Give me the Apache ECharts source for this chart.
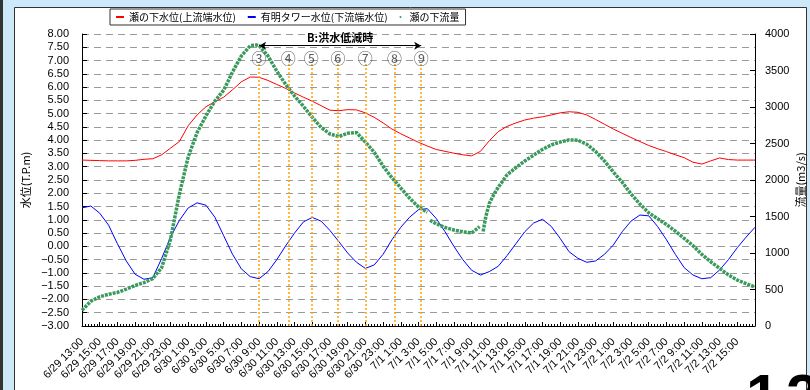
<!DOCTYPE html>
<html>
<head>
<meta charset="utf-8">
<script src="https://cdn.jsdelivr.net/npm/echarts@6/dist/echarts.min.js"></script>
<style>
html, body { margin: 0; padding: 0; background: #cde8f8; }
#chart { width: 810px; height: 390px; }
</style>
</head>
<body>
<div id="chart"></div>
<script>
// x axis = hours since 6/29 13:00, one label every 2 hours
const timeLabels = [
  '6/29 13:00', '6/29 15:00', '6/29 17:00', '6/29 19:00', '6/29 21:00', '6/29 23:00',
  '6/30 1:00', '6/30 3:00', '6/30 5:00', '6/30 7:00', '6/30 9:00', '6/30 11:00',
  '6/30 13:00', '6/30 15:00', '6/30 17:00', '6/30 19:00', '6/30 21:00', '6/30 23:00',
  '7/1 1:00', '7/1 3:00', '7/1 5:00', '7/1 7:00', '7/1 9:00', '7/1 11:00',
  '7/1 13:00', '7/1 15:00', '7/1 17:00', '7/1 19:00', '7/1 21:00', '7/1 23:00',
  '7/2 1:00', '7/2 3:00', '7/2 5:00', '7/2 7:00', '7/2 9:00', '7/2 11:00',
  '7/2 13:00', '7/2 15:00'
];

// hourly water levels (T.P.m), index = hour
const upperLevel = [
  3.25, 3.24, 3.23, 3.22, 3.22, 3.22, 3.24, 3.28, 3.30, 3.45,
  3.70, 3.95, 4.55, 4.95, 5.26, 5.45, 5.62, 5.90, 6.20, 6.38,
  6.37, 6.25, 6.10, 5.95, 5.78, 5.62, 5.47, 5.30, 5.13, 5.11,
  5.15, 5.14, 5.03, 4.86, 4.65, 4.42, 4.24, 4.08, 3.92, 3.78,
  3.65, 3.58, 3.51, 3.45, 3.41, 3.58, 3.98, 4.32, 4.52, 4.65,
  4.76, 4.83, 4.88, 4.95, 5.03, 5.07, 5.05, 4.95, 4.78, 4.60,
  4.42, 4.26, 4.10, 3.95, 3.80, 3.68, 3.57, 3.45, 3.34, 3.17,
  3.10, 3.22, 3.33, 3.27, 3.25, 3.25, 3.25
];
const lowerLevel = [
  1.45, 1.52, 1.25, 0.80, 0.10, -0.55, -1.05, -1.24, -1.18, -0.45,
  0.35, 0.98, 1.45, 1.64, 1.55, 1.10, 0.40, -0.30, -0.85, -1.14,
  -1.22, -0.95, -0.50, 0.02, 0.50, 0.92, 1.09, 0.95, 0.60, 0.18,
  -0.25, -0.60, -0.83, -0.70, -0.30, 0.25, 0.72, 1.10, 1.38, 1.42,
  1.05, 0.55, 0.00, -0.50, -0.90, -1.08, -0.95, -0.75, -0.35, 0.10,
  0.55, 0.88, 1.02, 0.75, 0.30, -0.20, -0.45, -0.60, -0.55, -0.30,
  0.05, 0.55, 0.95, 1.18, 1.15, 0.75, 0.25, -0.30, -0.80, -1.08,
  -1.22, -1.18, -0.89, -0.50, -0.05, 0.35, 0.72
];

// discharge (m3/s); null = missing record
const flowHours = [
  0, 1, 2, 3, 4, 5, 6, 7, 8, 9, 10, 11, 12, 13, 14, 15, 16, 17, 18, 19,
  19.7, 20, 21, 22, 23, 24, 25, 26, 27, 28, 29, 30, 31, 32, 33, 34, 35, 36, 37, 38,
  39, 39.2, 39.3, 40, 41, 42, 43, 44, 44.9, 45.1, 45.3, 45.6, 46, 46.5, 47, 48, 49,
  50, 51, 52, 53, 54, 55, 56, 57, 58, 59, 60, 61, 62, 63, 64, 65, 66, 67, 68, 69,
  70, 71, 72, 73, 74, 75, 76
];
const flowValues = [
  215, 340, 400, 435, 460, 505, 555, 595, 650, 800, 1190, 1810, 2320, 2650, 2880, 3080, 3230, 3480, 3700, 3840,
  3850, 3840, 3700, 3490, 3310, 3150, 3010, 2860, 2720, 2630, 2595, 2640, 2650, 2520, 2380, 2190, 2030, 1890, 1750, 1630,
  1560, null, 1450, 1400, 1350, 1315, 1290, 1275, 1360, null, 1295, 1500, 1680, 1800, 1900, 2070, 2170,
  2260, 2340, 2420, 2480, 2520, 2550, 2545, 2490, 2390, 2260, 2110, 1970, 1810, 1670, 1550, 1470, 1390, 1300, 1200, 1100,
  980, 880, 790, 700, 630, 580, 535
];

// recession period markers
const stepHours = [20, 23.3, 25.9, 28.9, 32, 35.3, 38.3];
const stepLabels = ['③', '④', '⑤', '⑥', '⑦', '⑧', '⑨'];
const periodLabel = 'B:洪水低減時';

const seriesNames = ['瀬の下水位(上流端水位)', '有明タワー水位(下流端水位)', '瀬の下流量'];

const jp = '"Noto Sans CJK JP", "Noto Sans", sans-serif';
const num = '"Liberation Sans", Arial, sans-serif';

const chart = echarts.init(document.getElementById('chart'), null, { renderer: 'canvas' });

const fmtLevel = v => (v < 0 ? '\u2212' : '') + Math.abs(v).toFixed(2);

const option = {
  animation: false,
  backgroundColor: '#cde8f8',
  graphic: [
    { type: 'rect', z: -10, shape: { x: 0, y: 0, width: 3, height: 390 }, style: { fill: '#333' } },
    { type: 'rect', z: -10, shape: { x: 14.5, y: 7.5, width: 792, height: 400 }, style: { fill: '#fff', stroke: '#333', lineWidth: 1 } },
    { type: 'text', z: 10, left: 746, top: 369, style: { text: '1', font: 'bold 60px "Liberation Sans"', fill: '#000' } },
    { type: 'text', z: 10, left: 786, top: 369, style: { text: '2', font: 'bold 60px "Liberation Sans"', fill: '#000' } }
  ],
  legend: {
    data: [
      { name: seriesNames[0], icon: 'rect' },
      { name: seriesNames[1], icon: 'rect' },
      { name: seriesNames[2], icon: 'circle' }
    ],
    left: 110,
    top: 9,
    padding: [3, 6],
    itemWidth: 8,
    itemHeight: 2,
    itemGap: 12,
    backgroundColor: '#fff',
    borderColor: '#333',
    borderWidth: 1,
    borderRadius: 0,
    textStyle: { fontFamily: jp, fontSize: 10, color: '#000' }
  },
  grid: { left: 82, right: 55, top: 34, bottom: 64, outerBoundsMode: 'none' },
  xAxis: {
    type: 'value',
    min: 0,
    max: 76,
    interval: 2,
    axisLine: { show: true, onZero: false, lineStyle: { color: '#000', width: 1 } },
    axisTick: { show: true, inside: true, length: 4, lineStyle: { color: '#000' } },
    minorTick: { show: true, splitNumber: 6, length: 2, lineStyle: { color: '#000' } },
    splitLine: { show: false },
    axisLabel: {
      rotate: 45,
      margin: 14,
      fontFamily: num,
      fontSize: 11,
      color: '#000',
      formatter: v => timeLabels[v / 2] || ''
    }
  },
  yAxis: [
    {
      type: 'value',
      min: -3,
      max: 8,
      interval: 0.5,
      name: '水位(T.P.m)',
      nameLocation: 'middle',
      nameRotate: 90,
      nameGap: 51,
      nameMoveOverlap: false,
      nameTextStyle: { fontFamily: jp, fontSize: 11, color: '#000' },
      axisLine: { show: true, onZero: false, lineStyle: { color: '#000', width: 1 } },
      axisTick: { show: true, inside: true, length: 5, lineStyle: { color: '#000' } },
      splitLine: { show: true, lineStyle: { color: '#9a9a9a', width: 1, type: [7, 5] } },
      axisLabel: { margin: 13, fontFamily: num, fontSize: 11, color: '#000', formatter: fmtLevel }
    },
    {
      type: 'value',
      position: 'right',
      min: 0,
      max: 4000,
      interval: 500,
      name: '流量(m3/s)',
      nameLocation: 'middle',
      nameRotate: 90,
      nameGap: 40,
      nameMoveOverlap: false,
      nameTextStyle: { fontFamily: jp, fontSize: 11, color: '#000' },
      axisLine: { show: true, onZero: false, lineStyle: { color: '#000', width: 1 } },
      axisTick: { show: true, inside: true, length: 5, lineStyle: { color: '#000' } },
      splitLine: { show: false },
      axisLabel: { margin: 10, fontFamily: num, fontSize: 11, color: '#000', formatter: v => String(v) }
    }
  ],
  series: [
    {
      name: seriesNames[0],
      type: 'line',
      yAxisIndex: 0,
      data: upperLevel.map((v, i) => [i, v]),
      showSymbol: false,
      symbol: 'none',
      color: '#ff0000',
      lineStyle: { color: '#ff0000', width: 1 },
      z: 3,
      markLine: {
        silent: true,
        symbol: ['none', 'none'],
        label: { show: false },
        lineStyle: { color: '#ffa500', width: 1.5, type: [2, 2] },
        data: stepHours.map(h => [{ coord: [h, -3] }, { coord: [h, 6.9] }])
      }
    },
    {
      name: seriesNames[1],
      type: 'line',
      yAxisIndex: 0,
      data: lowerLevel.map((v, i) => [i, v]),
      showSymbol: false,
      symbol: 'none',
      color: '#0000ff',
      lineStyle: { color: '#0000ff', width: 1 },
      z: 3,
      markLine: {
        silent: true,
        symbol: ['arrow', 'arrow'],
        symbolSize: [6, 7],
        lineStyle: { color: '#000', width: 1.2, type: 'solid' },
        label: {
          show: true,
          position: 'insideMiddleTop',
          distance: 2,
          formatter: periodLabel,
          fontFamily: jp,
          fontWeight: 'bold',
          fontSize: 11,
          color: '#000'
        },
        data: [[{ coord: [stepHours[0], 7.56] }, { coord: [stepHours[stepHours.length - 1], 7.56] }]]
      }
    },
    {
      name: seriesNames[2],
      type: 'line',
      yAxisIndex: 1,
      data: flowHours.map((h, i) => [h, flowValues[i] === null ? '-' : flowValues[i]]),
      connectNulls: false,
      showSymbol: false,
      symbol: 'none',
      color: '#3a9a5c',
      lineStyle: { color: '#3a9a5c', width: 3.5, type: [3, 1], cap: 'butt' },
      z: 4
    },
    {
      name: 'steps',
      type: 'scatter',
      yAxisIndex: 0,
      symbolSize: 1,
      itemStyle: { color: 'rgba(0,0,0,0)' },
      silent: true,
      data: stepHours.map(h => [h, 7.08]),
      label: {
        show: true,
        position: 'inside',
        fontFamily: jp,
        fontSize: 15,
        color: '#333',
        formatter: p => stepLabels[p.dataIndex]
      },
      z: 5
    }
  ]
};

chart.setOption(option);
</script>
</body>
</html>
